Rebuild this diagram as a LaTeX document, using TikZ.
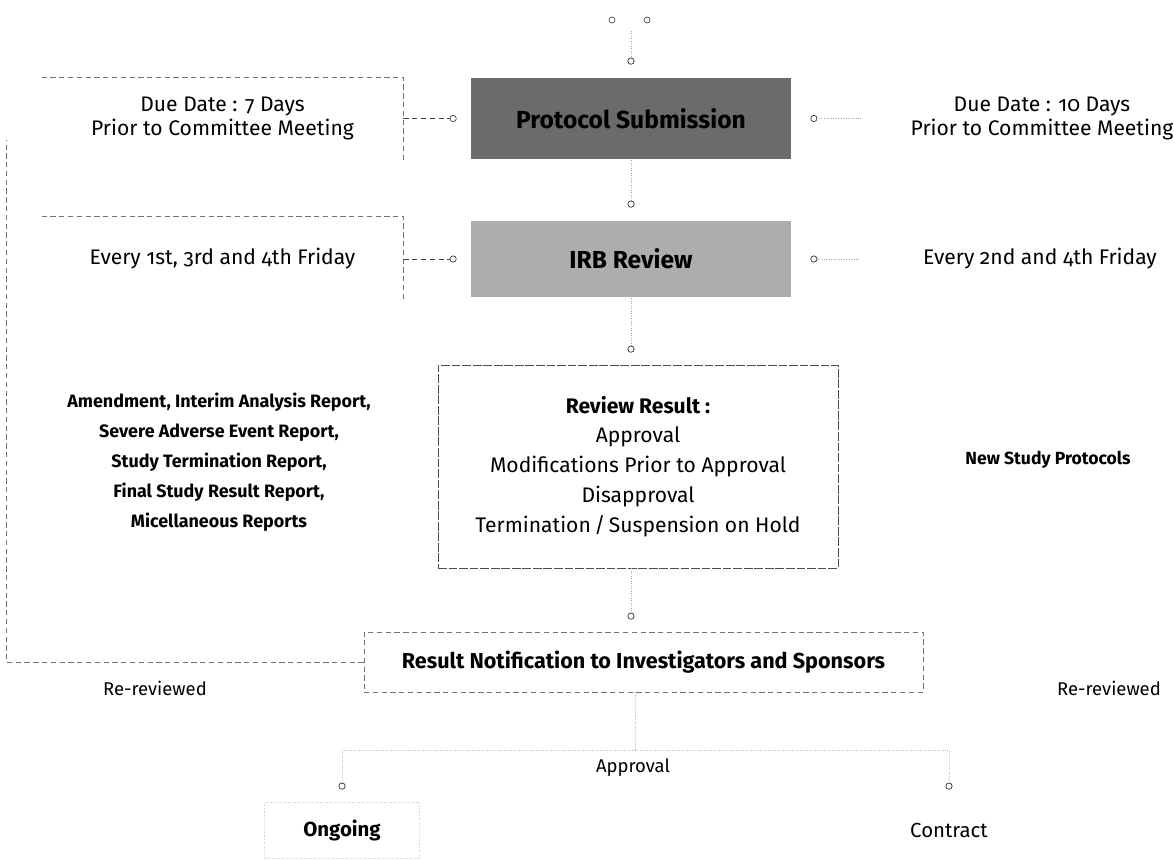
\documentclass[tikz,border=0pt]{standalone}
\usepackage{fontspec}
\setmainfont{Fira Sans}[Numbers=OldStyle]
\usetikzlibrary{positioning, arrows.meta}
\definecolor{subdark}{gray}{0.42}
\definecolor{irbgrey}{gray}{0.68}
\definecolor{edgegrey}{gray}{0.45}

\tikzset{
    sidebox/.style={minimum width=7.22cm, align=center,
        font=\fontsize{12}{14}\selectfont},
    headbox/.style={draw=black!85, double=white, double distance=0.8pt,
        minimum width=6.44cm, font=\fontsize{14}{16}\selectfont\bfseries},
    listbox/.style={draw=black!70, dash pattern=on 5pt off 1pt, align=center,
        font=\fontsize{12}{17}\selectfont},
    endbox/.style={minimum width=3.1cm, minimum height=1.12cm},
    link/.style={draw=black!35, densely dotted,
        -{Circle[open, length=4pt, width=4pt, black!80]}, shorten >=0.24cm},
    sidelink/.style={draw=black!75, densely dashed,
        -{Circle[open, length=4pt, width=4pt]}, shorten >=0.26cm},
    note/.style={font=\fontsize{10.5}{12}\selectfont},
}

\begin{document}
\begin{tikzpicture}
    \useasboundingbox (0, 0) rectangle (23.48, -17.2);

    % main column
    \node[headbox, fill=subdark, minimum height=1.66cm] (submit) at (12.62, -2.37)
        {Protocol Submission};
    \node[headbox, fill=irbgrey, minimum height=1.56cm] (irb) at (12.62, -5.18)
        {IRB Review};
    \node[listbox, minimum width=8cm, minimum height=4.06cm] (result) at (12.76, -9.33)
        {\textbf{Review Result :}\\ Approval\\ Modifications Prior to Approval\\
         Disapproval\\ Termination\,/\,Suspension on Hold};
    \node[draw=black!55, dash pattern=on 3pt off 2pt, minimum width=11.18cm,
          minimum height=1.2cm, font=\fontsize{12.3}{14}\selectfont\bfseries]
        (notify) at (12.87, -13.24)
        {Result Notification to Investigators and Sponsors};

    % left side
    \node[sidebox, minimum height=1.64cm] (due7) at (4.45, -2.37)
        {Due Date : 7 Days\\ Prior to Committee Meeting};
    \node[sidebox, minimum height=1.7cm] (fri134) at (4.45, -5.18)
        {Every 1st, 3rd and 4th Friday};
    \draw[edgegrey, densely dashed] (due7.north west) -- (due7.north east) -- (due7.south east);
    \draw[edgegrey, densely dashed] (fri134.north west) -- (fri134.north east) -- (fri134.south east);
    \node[font=\fontsize{10.2}{17}\selectfont\bfseries, align=center] (reports) at (4.38, -9.24)
        {Amendment, Interim Analysis Report,\\ Severe Adverse Event Report,\\
         Study Termination Report,\\ Final Study Result Report,\\ Micellaneous Reports};

    % right side
    \node[sidebox] (due10) at (20.84, -2.37)
        {Due Date : 10 Days\\ Prior to Committee Meeting};
    \node[sidebox] (fri24) at (20.8, -5.18) {Every 2nd and 4th Friday};
    \node[font=\fontsize{10}{12}\selectfont\bfseries] (newstudy) at (20.96, -9.2)
        {New Study Protocols};

    % bottom
    \node[note] (rerevl) at (3.1, -13.76) {Re-reviewed};
    \node[note] (rerevr) at (22.18, -13.76) {Re-reviewed};
    \node[note] (approval) at (12.66, -15.36) {Approval};
    \node[endbox, draw=black!20, densely dotted, font=\fontsize{11.6}{13}\selectfont\bfseries]
        (ongoing) at (6.84, -16.6) {Ongoing};
    \node[endbox, font=\fontsize{11.6}{13}\selectfont] (contract) at (18.98, -16.6) {Contract};

    % connectors
    \coordinate (topin) at (12.62, -0.62);
    \draw[black!70] (12.24, -0.4) circle (0.06) (12.94, -0.4) circle (0.06);
    \draw[link] (topin) -- (submit.north);
    \draw[sidelink] (due7.east) -- (submit.west);
    \draw[sidelink] (fri134.east) -- (irb.west);
    \draw[link, shorten >=0.36cm] (due10.west) -- (submit.east);
    \draw[link, shorten >=0.36cm] (fri24.west) -- (irb.east);
    \draw[link] (submit.south) -- (irb.north);
    \draw[link] (irb.south) -- (irb.south |- result.north);
    \draw[link] (irb.south |- result.south) -- (irb.south |- notify.north);
    \coordinate (split) at (12.7, -15.0);
    \draw[black!25, densely dotted] (notify.south -| split) -- (split);
    \draw[link, draw=black!25] (split) -| (ongoing.north);
    \draw[link, draw=black!25] (split) -| (contract.north);
    \coordinate (loopend) at (0.12, -2.8);
    \draw[edgegrey, densely dashed] (notify.west) -| (loopend);
\end{tikzpicture}
\end{document}
